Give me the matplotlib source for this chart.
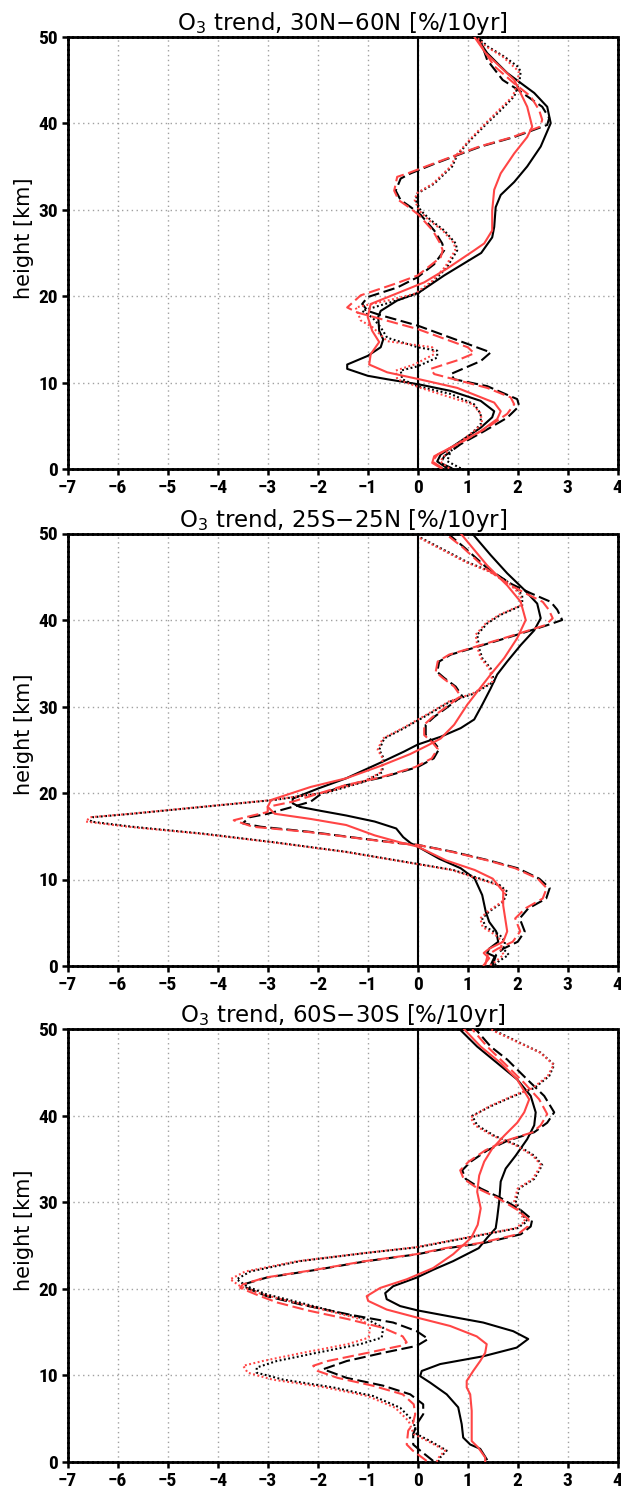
import matplotlib
matplotlib.use("Agg")
import matplotlib.pyplot as plt
from matplotlib.font_manager import FontProperties

# ---- data: height [km] and trend [%/10yr] per run ----
titles = ['O$_3$ trend, 30N\u221260N [%/10yr]',
          'O$_3$ trend, 25S\u221225N [%/10yr]',
          'O$_3$ trend, 60S\u221230S [%/10yr]']

# panel 1, 30N-60N
p1_ks_z = [0.1, 0.9, 1.7, 3.25, 4.8, 6.0, 6.7, 7.9, 9.05, 9.8, 10.4, 10.8, 11.6, 12.1, 13.1, 14.1, 15.0, 16.0,
           17.6, 18.3, 19.5, 20.45, 22.4, 25.0, 26.8, 28.0, 30.3, 31.7, 33.2, 35.0, 37.3, 40.0, 41.9, 43.5,
           45.8, 48.1, 50]
p1_ks = [0.59, 0.39, 0.46, 0.86, 1.26, 1.49, 1.53, 1.26, 0.66, 0.03, -0.61, -1.0, -1.41, -1.41, -1.0, -0.74,
         -0.69, -0.77, -0.79, -0.74, -0.41, 0.03, 0.53, 1.27, 1.49, 1.53, 1.56, 1.66, 1.93, 2.19, 2.46, 2.66,
         2.59, 2.33, 1.79, 1.39, 1.17]
p1_rs_z = [0.15, 0.73, 1.5, 2.9, 4.4, 5.8, 6.7, 7.7, 9.4, 10.4, 11.2, 12.1, 13.3, 14.7, 16.0, 17.6, 19.1, 20.5,
           21.6, 23.2, 25.3, 26.1, 27.6, 29.9, 32.3, 34.2, 36.5, 38.4, 39.6, 41.9, 45.0, 48.1, 50]
p1_rs = [0.46, 0.29, 0.33, 0.79, 1.26, 1.59, 1.66, 1.53, 0.79, 0.03, -0.61, -0.97, -0.94, -0.77, -0.91, -1.0,
         -0.94, -0.34, 0.13, 0.59, 1.13, 1.33, 1.49, 1.49, 1.53, 1.66, 1.93, 2.19, 2.29, 2.19, 1.93, 1.36, 1.13]
p1_kd_z = [0.1, 0.7, 1.5, 2.9, 4.4, 5.95, 7.3, 8.1, 9.6, 10.4, 11.0, 12.5, 13.5, 15.2, 16.6, 17.8, 18.3, 19.1,
           19.9, 21.0, 22.2, 23.7, 25.3, 26.1, 27.6, 29.4, 30.3, 31.1, 32.2, 33.6, 34.2, 35.3, 36.3, 37.3,
           38.4, 39.8, 40.6, 41.9, 43.8, 45.0, 47.3, 50]
p1_kd = [0.69, 0.46, 0.53, 0.86, 1.33, 1.79, 2.03, 1.99, 1.39, 0.73, 0.66, 1.26, 1.46, 0.66, 0.0, -0.74, -1.0,
         -1.11, -1.0, -0.41, 0.0, 0.33, 0.53, 0.49, 0.33, 0.06, -0.14, -0.34, -0.44, -0.34, -0.14, 0.33, 0.79,
         1.26, 1.93, 2.59, 2.63, 2.49, 2.02, 1.7, 1.39, 1.23]
p1_rd_z = [0.1, 0.9, 1.7, 3.3, 4.8, 6.4, 7.5, 8.3, 9.4, 10.5, 11.0, 11.6, 12.6, 13.4, 14.1, 16.2, 18.1, 18.7,
           20.1, 21.4, 22.4, 24.5, 25.3, 26.1, 27.6, 29.4, 30.3, 31.1, 32.2, 33.8, 34.2, 35.3, 36.3, 37.3,
           38.4, 39.6, 40.4, 41.5, 43.1, 44.6, 46.6, 48.1, 50]
p1_rd = [0.5, 0.29, 0.4, 0.93, 1.39, 1.79, 1.93, 1.86, 1.39, 0.66, 0.33, 0.26, 0.8, 1.13, 1.0, 0.0, -1.2,
         -1.41, -1.14, -0.47, 0.0, 0.46, 0.5, 0.45, 0.3, 0.02, -0.18, -0.38, -0.47, -0.41, -0.2, 0.3, 0.76,
         1.23, 1.9, 2.45, 2.49, 2.43, 2.26, 1.93, 1.53, 1.36, 1.16]
p1_kt_z = [0.1, 0.93, 2.1, 3.6, 5.2, 6.4, 7.5, 8.7, 9.6, 10.4, 11.4, 11.9, 12.9, 13.7, 14.1, 15.2, 16.4, 17.5,
           18.3, 19.3, 20.3, 21.8, 23.4, 25.3, 26.1, 27.6, 28.8, 29.9, 31.1, 31.9, 33.0, 35.0, 36.3, 38.1,
           40.0, 41.5, 43.1, 44.6, 46.0, 46.6, 47.7, 48.9, 50]
p1_kt = [0.86, 0.59, 0.66, 0.99, 1.26, 1.26, 1.13, 0.66, 0.0, -0.31, -0.34, 0.0, 0.39, 0.39, 0.0, -0.61, -0.74,
         -0.9, -1.11, -0.54, 0.0, 0.33, 0.59, 0.79, 0.76, 0.53, 0.26, 0.06, -0.04, 0.0, 0.33, 0.69, 0.79, 1.06,
         1.39, 1.66, 1.93, 2.03, 2.06, 1.99, 1.73, 1.39, 1.2]
p1_rt_z = [0.1, 0.9, 2.1, 3.6, 5.2, 6.4, 7.5, 8.3, 9.4, 10.4, 11.4, 12.1, 13.3, 14.1, 14.8, 16.4, 17.2, 18.7,
           19.5, 20.3, 21.8, 23.4, 25.3, 26.1, 27.6, 28.8, 29.9, 31.1, 31.9, 33.0, 35.0, 36.3, 38.1, 40.0,
           41.5, 43.1, 44.6, 46.0, 47.7, 48.9, 50]
p1_rt = [0.63, 0.45, 0.6, 0.95, 1.29, 1.26, 1.1, 0.66, 0.06, -0.41, -0.44, -0.07, 0.33, 0.29, -0.61, -0.9,
         -1.14, -1.24, -0.6, -0.05, 0.3, 0.55, 0.75, 0.73, 0.5, 0.22, 0.03, -0.06, -0.02, 0.3, 0.66, 0.77,
         1.04, 1.36, 1.62, 1.9, 2.0, 2.02, 1.7, 1.36, 1.17]

# panel 2, 25S-25N
p2_ks_z = [0.1, 1.1, 1.5, 2.0, 2.8, 4.0, 5.1, 6.3, 8.2, 10.1, 11.3, 12.4, 13.8, 14.2, 14.9, 15.9, 16.7, 17.4,
           18.0, 18.4, 18.8, 19.35, 20.5, 21.7, 23.6, 24.8, 25.6, 26.5, 27.5, 28.5, 30.2, 32.1, 33.7, 35.2,
           37.1, 38.8, 40.2, 41.9, 43.5, 45.4, 47.5, 50]
p2_ks = [1.46, 1.54, 1.39, 1.43, 1.61, 1.57, 1.43, 1.36, 1.29, 1.14, 0.86, 0.43, 0.0, -0.14, -0.29, -0.43, -0.86,
         -1.43, -2.0, -2.36, -2.5, -2.5, -2.0, -1.43, -0.71, -0.27, 0.0, 0.46, 0.86, 1.13, 1.29, 1.46, 1.59,
         1.79, 2.06, 2.33, 2.46, 2.39, 2.13, 1.79, 1.46, 1.09]
p2_rs_z = [0.1, 0.9, 1.5, 2.0, 2.8, 4.0, 5.5, 7.0, 8.6, 10.1, 11.1, 12.2, 13.8, 14.3, 15.1, 16.3, 17.0, 17.6,
           18.4, 19.2, 20.7, 21.7, 23.2, 24.5, 25.5, 26.3, 27.9, 30.2, 31.7, 33.7, 35.6, 37.9, 40.0, 42.1,
           44.0, 46.3, 50]
p2_rs = [1.32, 1.43, 1.32, 1.43, 1.71, 1.79, 1.75, 1.71, 1.71, 1.5, 1.14, 0.57, 0.0, -0.36, -0.86, -1.43, -2.14,
         -2.86, -3.0, -2.93, -2.14, -1.43, -0.71, -0.15, 0.2, 0.46, 0.73, 0.99, 1.19, 1.46, 1.73, 1.99, 2.16,
         2.06, 1.79, 1.39, 0.86]
p2_kd_z = [0.1, 1.3, 2.0, 2.8, 4.0, 5.5, 6.65, 7.8, 9.0, 10.1, 11.3, 12.2, 13.2, 14.0, 14.2, 14.7, 15.5, 16.1,
           16.5, 17.2, 17.6, 18.4, 19.0, 19.9, 20.9, 21.8, 23.0, 24.0, 25.1, 25.8, 26.7, 27.9, 28.8, 30.2,
           31.2, 32.3, 33.3, 34.0, 35.2, 36.0, 36.9, 38.3, 39.4, 40.0, 41.2, 42.1, 43.1, 44.2, 46.0, 48.4, 50]
p2_kd = [1.5, 1.57, 1.71, 2.0, 2.14, 2.04, 2.21, 2.57, 2.64, 2.43, 2.0, 1.43, 0.71, 0.0, -0.36, -1.07, -2.14,
         -3.14, -3.5, -3.36, -3.0, -2.5, -2.14, -1.93, -1.43, -0.71, 0.0, 0.32, 0.43, 0.33, 0.16, 0.16, 0.33,
         0.66, 0.89, 0.76, 0.53, 0.39, 0.43, 0.66, 1.19, 1.99, 2.59, 2.89, 2.79, 2.66, 2.26, 1.86, 1.39, 0.93,
         0.6]
p2_rd_z = [0.1, 1.3, 2.0, 2.8, 4.0, 5.5, 6.65, 7.8, 9.0, 10.1, 11.3, 12.2, 13.2, 14.0, 14.2, 14.7, 15.5, 16.1,
           16.85, 17.4, 17.8, 18.4, 19.0, 19.9, 20.9, 21.8, 23.0, 24.0, 25.1, 25.8, 26.7, 27.9, 28.8, 30.2,
           31.2, 32.3, 33.3, 34.0, 35.2, 36.0, 36.9, 38.3, 39.4, 40.2, 41.2, 42.1, 43.1, 44.2, 46.0, 48.4, 50]
p2_rd = [1.35, 1.4, 1.6, 1.9, 2.05, 1.95, 2.15, 2.5, 2.58, 2.4, 1.95, 1.4, 0.68, 0.0, -0.4, -1.1, -2.2, -3.3,
         -3.68, -3.3, -3.0, -3.0, -2.5, -2.0, -1.45, -0.75, -0.05, 0.28, 0.4, 0.3, 0.13, 0.13, 0.3, 0.63, 0.86,
         0.73, 0.5, 0.36, 0.4, 0.63, 1.15, 1.95, 2.55, 2.7, 2.62, 2.5, 2.15, 1.8, 1.35, 0.9, 0.55]
p2_kt_z = [0.1, 0.5, 1.3, 2.0, 2.8, 3.6, 4.5, 5.5, 6.3, 7.4, 8.6, 9.35, 10.3, 11.1, 11.8, 13.2, 14.3, 15.3,
           16.1, 16.7, 17.2, 17.6, 18.4, 19.2, 20.1, 21.3, 22.4, 24.0, 25.0, 26.3, 27.5, 29.0, 30.6, 31.5,
           32.9, 34.4, 35.6, 36.7, 38.3, 39.6, 40.6, 41.7, 42.9, 44.2, 45.6, 46.7, 48.3, 49.6]
p2_kt = [1.54, 1.61, 1.82, 1.71, 1.75, 1.64, 1.36, 1.29, 1.43, 1.71, 1.79, 1.64, 1.14, 0.71, 0.0, -1.43, -2.86,
         -4.29, -5.71, -6.54, -6.5, -5.71, -4.29, -2.86, -1.79, -1.07, -0.71, -0.68, -0.77, -0.67, -0.27, 0.19,
         0.66, 1.13, 1.53, 1.46, 1.29, 1.23, 1.19, 1.39, 1.66, 2.09, 2.09, 1.86, 1.46, 0.99, 0.46, 0.03]
p2_rt_z = [0.1, 0.5, 1.3, 2.0, 2.8, 3.6, 4.5, 5.5, 6.3, 7.4, 8.6, 9.35, 10.3, 11.1, 11.8, 13.2, 14.3, 15.3,
           16.1, 16.7, 17.2, 17.6, 18.4, 19.2, 20.1, 21.3, 22.4, 24.0, 25.0, 26.3, 27.5, 29.0, 30.6, 31.5,
           32.9, 34.4, 35.6, 36.7, 38.3, 39.6, 40.6, 41.7, 42.9, 44.2, 45.6, 46.7, 48.3, 49.6]
p2_rt = [1.45, 1.55, 1.72, 1.65, 1.7, 1.55, 1.3, 1.25, 1.4, 1.68, 1.76, 1.6, 1.1, 0.68, -0.03, -1.46, -2.9,
         -4.35, -5.8, -6.64, -6.55, -5.75, -4.33, -2.9, -1.82, -1.1, -0.73, -0.7, -0.8, -0.7, -0.3, 0.16, 0.63,
         1.1, 1.5, 1.43, 1.26, 1.2, 1.16, 1.36, 1.63, 2.06, 2.06, 1.83, 1.43, 0.96, 0.43, 0.0]

# panel 3, 60S-30S
p3_ks_z = [0.3, 1.5, 2.0, 2.8, 4.35, 6.3, 7.8, 9.15, 9.9, 10.5, 11.3, 12.2, 13.2, 14.2, 15.1, 16.1, 16.8, 17.5,
           18.0, 18.8, 19.5, 20.3, 21.3, 22.2, 23.2, 24.7, 25.9, 27.0, 28.2, 30.1, 32.4, 33.9, 35.4, 37.3,
           38.9, 40.4, 42.3, 44.2, 46.1, 48.0, 50]
p3_ks = [1.38, 1.25, 1.05, 0.91, 0.88, 0.81, 0.58, 0.25, 0.05, 0.08, 0.45, 1.31, 1.98, 2.21, 1.91, 1.31, 0.65,
         0.0, -0.35, -0.62, -0.65, -0.49, -0.02, 0.31, 0.71, 1.22, 1.39, 1.56, 1.59, 1.63, 1.66, 1.76, 1.96,
         2.19, 2.33, 2.36, 2.26, 1.99, 1.59, 1.19, 0.84]
p3_rs_z = [0.0, 0.5, 1.65, 2.4, 3.6, 5.9, 7.8, 8.6, 9.35, 10.5, 11.65, 12.6, 13.6, 14.5, 15.7, 16.65, 17.6,
           18.6, 19.15, 20.1, 21.1, 22.4, 24.0, 25.9, 27.4, 29.3, 31.2, 33.1, 34.7, 36.2, 37.7, 39.2, 40.4,
           41.9, 44.2, 46.1, 48.0, 50]
p3_rs = [1.35, 1.35, 1.21, 1.08, 1.08, 1.08, 1.05, 0.98, 0.98, 1.11, 1.25, 1.35, 1.38, 1.18, 0.65, 0.0, -0.62,
         -0.99, -1.02, -0.75, -0.22, 0.31, 0.71, 1.07, 1.2, 1.26, 1.19, 1.23, 1.33, 1.49, 1.73, 1.99, 2.13,
         2.23, 1.99, 1.66, 1.26, 0.93]
p3_kd_z = [0.1, 1.3, 2.0, 3.2, 4.35, 5.5, 6.65, 7.8, 8.8, 9.7, 10.7, 11.65, 12.6, 13.4, 14.2, 15.1, 16.1, 17.0,
           18.2, 19.15, 20.1, 20.5, 21.3, 22.2, 23.2, 24.0, 24.7, 25.3, 26.3, 27.2, 28.0, 29.1, 30.5, 31.6,
           32.7, 33.7, 34.7, 36.0, 37.1, 38.1, 39.2, 40.4, 42.3, 44.2, 46.5, 48.0, 50]
p3_kd = [0.31, 0.05, -0.09, -0.09, -0.02, 0.11, 0.11, -0.15, -0.69, -1.42, -1.89, -1.42, -0.69, -0.02, 0.21,
         -0.02, -0.49, -1.35, -2.35, -3.02, -3.42, -3.49, -3.02, -2.02, -1.02, 0.0, 0.6, 1.33, 2.06, 2.26, 2.29,
         2.06, 1.66, 1.26, 0.96, 0.89, 1.06, 1.39, 1.79, 2.33, 2.59, 2.73, 2.53, 2.19, 1.79, 1.46, 1.16]
p3_rd_z = [0.1, 1.3, 2.0, 3.6, 4.35, 5.5, 6.65, 7.8, 8.8, 9.7, 10.5, 11.1, 11.65, 12.6, 13.4, 13.8, 14.5, 15.5,
           16.5, 17.5, 18.4, 19.15, 20.1, 20.5, 21.3, 22.2, 23.2, 24.0, 24.7, 25.3, 26.3, 27.2, 28.0, 29.1,
           30.5, 31.6, 32.7, 33.7, 34.7, 36.0, 37.1, 38.1, 38.9, 40.2, 41.9, 43.8, 46.1, 48.0, 50]
p3_rd = [0.18, -0.1, -0.22, -0.19, -0.1, -0.05, -0.08, -0.3, -0.9, -1.6, -2.0, -2.09, -1.8, -1.0, -0.35, -0.22,
         -0.3, -0.7, -1.4, -2.2, -2.8, -3.15, -3.55, -3.5, -3.05, -2.05, -1.05, -0.03, 0.55, 1.25, 2.0, 2.2,
         2.22, 2.0, 1.6, 1.2, 0.92, 0.85, 1.02, 1.35, 1.75, 2.3, 2.46, 2.59, 2.43, 2.13, 1.73, 1.39, 1.09]
p3_kt_z = [0.0, 0.5, 1.3, 2.4, 3.2, 4.7, 6.25, 7.6, 8.6, 9.5, 10.3, 10.9, 11.65, 12.6, 13.6, 14.35, 15.5, 16.5,
           17.4, 18.4, 19.35, 20.3, 21.1, 22.0, 23.2, 24.15, 24.8, 25.9, 27.0, 27.8, 28.9, 30.1, 31.6, 32.7,
           34.3, 35.4, 36.6, 37.7, 38.9, 40.0, 41.1, 42.3, 43.2, 44.6, 45.9, 47.3, 48.4, 49.7, 50]
p3_kt = [0.41, 0.45, 0.58, 0.25, -0.02, -0.09, -0.35, -0.89, -1.69, -2.69, -3.22, -3.22, -2.82, -2.02, -1.15,
         -0.72, -0.69, -1.02, -1.69, -2.35, -3.02, -3.42, -3.62, -3.35, -2.35, -1.02, 0.0, 0.99, 1.99, 2.19,
         2.06, 1.96, 2.03, 2.33, 2.49, 2.33, 1.99, 1.53, 1.19, 1.09, 1.46, 1.93, 2.33, 2.63, 2.73, 2.46, 2.06,
         1.59, 1.5]
p3_rt_z = [0.0, 0.5, 1.3, 2.4, 3.2, 4.7, 6.25, 7.6, 8.6, 9.5, 10.3, 11.1, 11.65, 12.6, 13.6, 14.35, 15.7, 16.5,
           17.4, 18.4, 19.35, 20.3, 21.1, 22.0, 23.2, 24.15, 24.8, 25.9, 27.0, 27.8, 28.9, 30.1, 31.6, 32.7,
           34.3, 35.4, 36.6, 37.7, 38.9, 39.8, 41.1, 42.3, 43.2, 44.6, 45.9, 47.3, 48.4, 49.7, 50]
p3_rt = [0.38, 0.42, 0.55, 0.2, -0.08, -0.18, -0.45, -1.0, -1.85, -2.9, -3.4, -3.49, -3.1, -2.3, -1.4, -0.98,
         -0.95, -1.15, -1.75, -2.45, -3.1, -3.55, -3.75, -3.45, -2.4, -1.05, -0.05, 0.95, 1.95, 2.15, 2.03,
         1.93, 2.0, 2.3, 2.47, 2.3, 1.96, 1.5, 1.14, 1.06, 1.43, 1.9, 2.3, 2.6, 2.72, 2.45, 2.04, 1.56, 1.47]

xticks = list(range(-7, 5))
yticks = [0, 10, 20, 30, 40, 50]

RED = '#ff4545'
styles = {
    'ks': dict(color='black', linestyle='-'),
    'kd': dict(color='black', dashes=(5.5, 2.2)),
    'kt': dict(color='black', dashes=(0.9, 1.2)),
    'rs': dict(color=RED, linestyle='-'),
    'rd': dict(color=RED, dashes=(5.5, 2.2)),
    'rt': dict(color=RED, dashes=(0.9, 1.2)),
}

panels = [
    {'ks': (p1_ks_z, p1_ks), 'kd': (p1_kd_z, p1_kd), 'kt': (p1_kt_z, p1_kt),
     'rs': (p1_rs_z, p1_rs), 'rd': (p1_rd_z, p1_rd), 'rt': (p1_rt_z, p1_rt)},
    {'ks': (p2_ks_z, p2_ks), 'kd': (p2_kd_z, p2_kd), 'kt': (p2_kt_z, p2_kt),
     'rs': (p2_rs_z, p2_rs), 'rd': (p2_rd_z, p2_rd), 'rt': (p2_rt_z, p2_rt)},
    {'ks': (p3_ks_z, p3_ks), 'kd': (p3_kd_z, p3_kd), 'kt': (p3_kt_z, p3_kt),
     'rs': (p3_rs_z, p3_rs), 'rd': (p3_rd_z, p3_rd), 'rt': (p3_rt_z, p3_rt)},
]

W, H = 621, 1488
fig = plt.figure(figsize=(W / 100, H / 100), dpi=100)

tick_fp = FontProperties(family=['Roboto Condensed', 'Liberation Sans Narrow', 'DejaVu Sans'],
                         weight='bold', size=14)
ax_tops = [36.7, 533.5, 1029.3]
ax_h = 432.5
left, width = 67.7, 550.0

for i, (ttl, series) in enumerate(zip(titles, panels)):
    top = ax_tops[i]
    ax = fig.add_axes([left / W, 1 - (top + ax_h) / H, width / W, ax_h / H])
    ax.set_xlim(-7, 4)
    ax.set_ylim(0, 50)
    ax.set_xticks(xticks)
    ax.set_yticks(yticks)
    ax.grid(True, color='#a0a0a0', linestyle=(0, (1, 2.5)), linewidth=1.0)
    ax.set_axisbelow(True)
    ax.axvline(0, color='black', linewidth=1.5, zorder=2)
    for key in ['ks', 'kd', 'kt', 'rs', 'rd', 'rt']:
        z, v = series[key]
        ax.plot(v, z, linewidth=1.5, zorder=3, **styles[key])
    for sp in ax.spines.values():
        sp.set_linewidth(2.0)
        sp.set_linestyle((0, (1.2, 0.6)))
    ax.tick_params(direction='out', length=4.5, width=1.8, pad=2.5)
    for lab in ax.get_xticklabels() + ax.get_yticklabels():
        lab.set_fontproperties(tick_fp)
    ax.set_title(ttl, fontsize=16.5, pad=5)
    ax.set_ylabel('height [km]', fontsize=15)
    ax.yaxis.set_label_coords(-0.061, 0.535)

fig.savefig('out.png', dpi=100)
